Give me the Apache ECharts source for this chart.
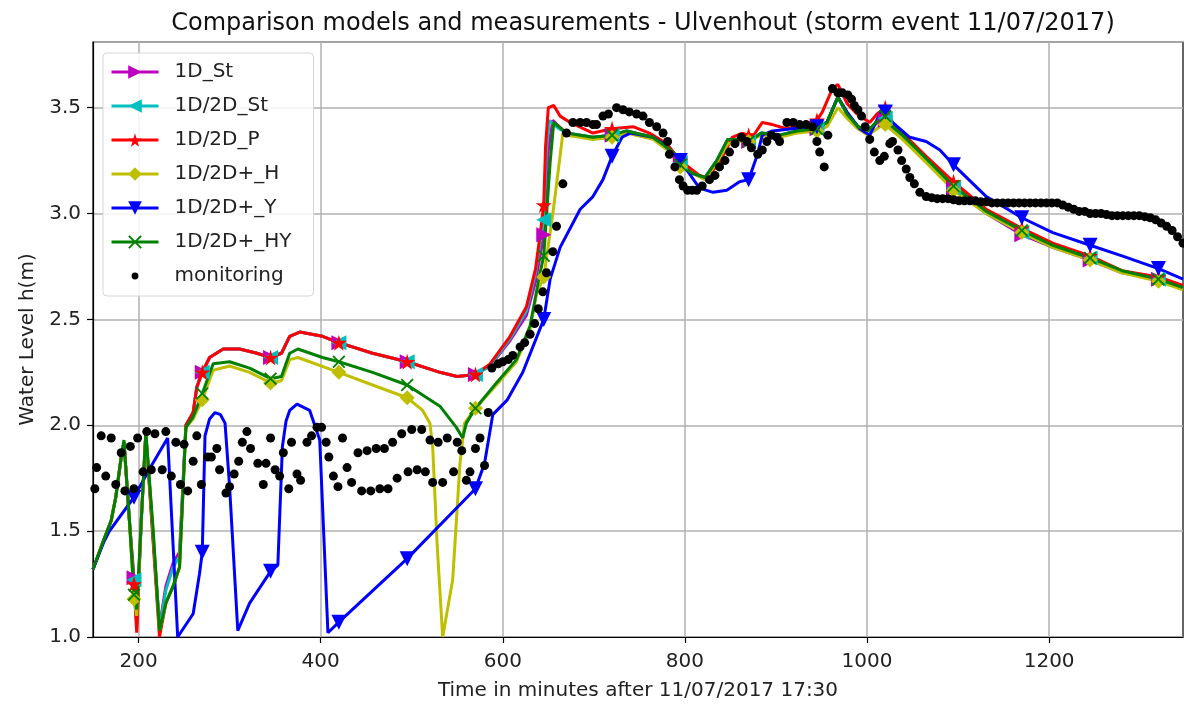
<!DOCTYPE html>
<html>
<head>
<meta charset="utf-8">
<title>Ulvenhout storm event</title>
<script src="https://cdn.jsdelivr.net/npm/echarts@6/dist/echarts.min.js"></script>
<style>
  html, body { margin: 0; padding: 0; background: #fff; }
  #chart { width: 1184px; height: 707px; }
</style>
</head>
<body>
<div id="chart"></div>
<script>
// water level h(m) against minutes after 11/07/2017 17:30
const xTicks = [200, 400, 600, 800, 1000, 1200]
const markerTimes = [195, 270, 345, 420, 495, 570, 645, 720, 795, 870, 945, 1020, 1095, 1170, 1245, 1320]

const st1D = [[150,1.32],[162,1.46],[170,1.55],[175,1.66],[181,1.85],[184,1.92],[190,1.55],[195,1.28],[198,1.06],[203,1.55],[208,1.96],[216,1.48],[223,1.05],[230,1.24],[238,1.35],[245,1.40],[252,2.00],[260,2.06],[264,2.18],[270,2.25],[278,2.32],[293,2.36],[311,2.36],[330,2.34],[345,2.32],[357,2.34],[366,2.42],[377,2.44],[402,2.42],[420,2.39],[457,2.34],[495,2.30],[531,2.25],[550,2.23],[570,2.24],[586,2.28],[608,2.40],[626,2.52],[636,2.68],[645,2.90],[650,3.30],[655,3.44],[662,3.41],[670,3.38],[685,3.37],[699,3.36],[720,3.37],[736,3.39],[765,3.36],[787,3.29],[795,3.24],[808,3.19],[822,3.17],[835,3.25],[847,3.35],[860,3.35],[870,3.34],[884,3.38],[904,3.37],[923,3.39],[945,3.40],[956,3.43],[968,3.55],[978,3.47],[990,3.41],[1001,3.39],[1014,3.44],[1020,3.44],[1028,3.40],[1039,3.36],[1065,3.25],[1095,3.12],[1131,3.00],[1170,2.90],[1204,2.84],[1245,2.78],[1280,2.72],[1320,2.69],[1347,2.65]]

const st1D2D = [[150,1.32],[162,1.46],[170,1.55],[175,1.66],[181,1.85],[184,1.92],[190,1.55],[195,1.27],[198,1.05],[203,1.55],[208,1.96],[216,1.47],[223,1.04],[230,1.22],[238,1.33],[245,1.38],[252,2.00],[260,2.06],[264,2.18],[270,2.25],[278,2.32],[293,2.36],[311,2.36],[330,2.34],[345,2.32],[357,2.34],[366,2.42],[377,2.44],[402,2.42],[420,2.39],[457,2.34],[495,2.30],[531,2.25],[550,2.23],[570,2.24],[586,2.28],[608,2.41],[626,2.54],[636,2.72],[645,2.97],[648,3.30],[651,3.44],[656,3.42],[662,3.40],[670,3.38],[685,3.37],[699,3.36],[720,3.37],[736,3.39],[765,3.36],[787,3.29],[795,3.24],[808,3.19],[822,3.17],[835,3.25],[847,3.35],[860,3.35],[870,3.34],[884,3.38],[904,3.37],[923,3.39],[945,3.40],[956,3.43],[968,3.55],[978,3.47],[990,3.41],[1001,3.39],[1014,3.45],[1020,3.45],[1028,3.41],[1039,3.36],[1065,3.25],[1095,3.12],[1131,3.00],[1170,2.91],[1204,2.84],[1245,2.79],[1280,2.72],[1320,2.69],[1347,2.65]]

const p1D2D = [[150,1.32],[162,1.46],[170,1.55],[175,1.66],[181,1.85],[184,1.92],[190,1.55],[195,1.25],[198,1.02],[203,1.55],[208,1.96],[216,1.45],[223,1.00],[230,1.16],[238,1.24],[245,1.33],[252,2.00],[260,2.06],[264,2.18],[270,2.25],[278,2.32],[293,2.36],[311,2.36],[330,2.34],[345,2.32],[357,2.34],[366,2.42],[377,2.44],[402,2.42],[420,2.39],[457,2.34],[495,2.30],[531,2.25],[550,2.23],[570,2.24],[586,2.29],[608,2.42],[626,2.56],[636,2.74],[641,2.90],[645,3.04],[647,3.32],[650,3.50],[656,3.51],[663,3.46],[674,3.43],[699,3.38],[720,3.40],[743,3.41],[761,3.38],[780,3.33],[795,3.25],[816,3.18],[824,3.17],[838,3.24],[852,3.36],[863,3.38],[870,3.37],[874,3.36],[885,3.43],[896,3.42],[912,3.40],[926,3.42],[945,3.44],[951,3.48],[962,3.59],[968,3.61],[978,3.52],[989,3.47],[1003,3.43],[1011,3.47],[1020,3.50],[1028,3.43],[1039,3.38],[1065,3.27],[1095,3.15],[1131,3.02],[1170,2.93],[1204,2.86],[1245,2.80],[1280,2.73],[1320,2.70],[1347,2.66]]

const h1D2Dplus = [[150,1.32],[162,1.46],[170,1.55],[175,1.66],[181,1.85],[184,1.92],[190,1.55],[195,1.18],[198,1.10],[203,1.55],[208,1.96],[216,1.50],[223,1.03],[230,1.16],[238,1.24],[245,1.33],[252,1.99],[260,2.03],[270,2.12],[282,2.26],[300,2.28],[322,2.25],[345,2.20],[357,2.21],[366,2.31],[375,2.32],[420,2.25],[457,2.19],[495,2.13],[512,2.07],[520,2.01],[523,1.90],[528,1.43],[534,1.00],[545,1.27],[553,1.82],[558,2.01],[570,2.08],[593,2.19],[615,2.30],[630,2.45],[637,2.62],[645,2.70],[655,3.00],[662,3.24],[666,3.38],[670,3.37],[685,3.36],[699,3.35],[720,3.36],[736,3.38],[765,3.35],[787,3.28],[795,3.22],[822,3.16],[835,3.24],[847,3.33],[860,3.34],[870,3.34],[884,3.37],[904,3.36],[923,3.38],[945,3.39],[956,3.41],[968,3.50],[978,3.45],[990,3.40],[1001,3.37],[1014,3.41],[1020,3.42],[1028,3.39],[1039,3.35],[1065,3.24],[1095,3.11],[1131,3.00],[1170,2.91],[1204,2.84],[1245,2.78],[1280,2.72],[1320,2.68],[1347,2.64]]

const y1D2Dplus = [[150,1.32],[162,1.45],[168,1.50],[195,1.66],[213,1.80],[232,1.94],[243,1.00],[260,1.11],[267,1.30],[270,1.40],[273,1.95],[278,2.03],[284,2.06],[290,2.05],[295,2.01],[300,1.71],[309,1.03],[322,1.16],[345,1.31],[353,1.34],[358,1.90],[362,2.02],[366,2.07],[374,2.10],[388,2.07],[399,1.93],[408,1.02],[420,1.07],[495,1.37],[570,1.70],[580,1.82],[589,2.05],[605,2.12],[622,2.25],[645,2.50],[652,2.69],[663,2.84],[685,3.02],[699,3.08],[710,3.16],[720,3.27],[731,3.36],[740,3.38],[765,3.36],[776,3.33],[795,3.25],[816,3.12],[831,3.10],[846,3.11],[860,3.15],[870,3.16],[879,3.27],[885,3.37],[896,3.39],[918,3.40],[945,3.41],[956,3.43],[968,3.55],[978,3.48],[992,3.40],[1003,3.37],[1014,3.47],[1020,3.48],[1028,3.43],[1047,3.36],[1065,3.34],[1080,3.30],[1095,3.23],[1131,3.08],[1170,2.98],[1204,2.91],[1245,2.85],[1280,2.80],[1320,2.74],[1347,2.69]]

const hy1D2Dplus = [[150,1.32],[162,1.46],[170,1.55],[175,1.66],[181,1.85],[184,1.93],[190,1.55],[195,1.20],[198,1.13],[203,1.55],[208,1.97],[216,1.51],[223,1.03],[230,1.16],[238,1.24],[245,1.33],[252,1.99],[260,2.04],[270,2.15],[282,2.29],[300,2.30],[322,2.27],[345,2.22],[357,2.23],[366,2.34],[375,2.36],[402,2.32],[420,2.30],[457,2.25],[495,2.19],[531,2.09],[549,1.99],[556,1.94],[560,2.01],[570,2.08],[593,2.20],[615,2.31],[630,2.47],[640,2.70],[645,2.80],[652,3.24],[656,3.43],[670,3.38],[685,3.37],[699,3.36],[720,3.37],[736,3.39],[765,3.36],[787,3.29],[795,3.23],[808,3.19],[822,3.17],[835,3.25],[847,3.35],[860,3.35],[870,3.34],[884,3.38],[904,3.37],[923,3.39],[945,3.40],[956,3.43],[968,3.55],[978,3.47],[990,3.41],[1001,3.39],[1014,3.45],[1020,3.46],[1028,3.41],[1039,3.37],[1065,3.26],[1095,3.13],[1131,3.01],[1170,2.92],[1204,2.85],[1245,2.79],[1280,2.73],[1320,2.69],[1347,2.65]]

const monitoring = [[152,1.70],[154,1.80],[159,1.95],[164,1.76],[170,1.94],[175,1.72],[181,1.87],[185,1.69],[191,1.90],[195,1.70],[199,1.94],[205,1.78],[209,1.97],[214,1.79],[218,1.96],[226,1.79],[230,1.97],[236,1.76],[241,1.92],[246,1.72],[250,1.91],[254,1.69],[260,1.83],[264,1.95],[269,1.72],[276,1.85],[280,1.85],[286,1.89],[289,1.79],[296,1.68],[300,1.71],[305,1.77],[310,1.83],[314,1.92],[319,1.97],[323,1.89],[331,1.82],[337,1.72],[340,1.82],[345,1.94],[350,1.79],[355,1.76],[359,1.87],[365,1.70],[368,1.92],[374,1.77],[378,1.74],[385,1.92],[390,1.95],[396,1.99],[401,1.99],[406,1.92],[409,1.85],[414,1.76],[419,1.71],[424,1.94],[429,1.80],[434,1.73],[441,1.87],[445,1.69],[451,1.88],[455,1.69],[461,1.89],[465,1.70],[470,1.89],[474,1.70],[479,1.92],[484,1.75],[489,1.96],[496,1.78],[500,1.98],[506,1.79],[511,1.98],[515,1.78],[520,1.93],[523,1.73],[529,1.92],[534,1.73],[539,1.94],[546,1.78],[550,1.92],[555,1.88],[560,1.74],[564,1.78],[570,1.89],[575,1.94],[580,1.81],[584,2.06],[588,2.27],[595,2.29],[600,2.30],[606,2.31],[611,2.33],[619,2.37],[624,2.39],[630,2.43],[635,2.48],[639,2.55],[644,2.63],[648,2.72],[655,2.82],[659,2.94],[666,3.14],[670,3.38],[677,3.43],[685,3.43],[692,3.43],[699,3.42],[703,3.42],[710,3.46],[716,3.47],[725,3.50],[732,3.49],[739,3.48],[747,3.47],[754,3.46],[761,3.43],[769,3.41],[776,3.38],[781,3.34],[783,3.28],[789,3.22],[794,3.16],[798,3.13],[803,3.11],[808,3.11],[813,3.11],[819,3.13],[827,3.16],[833,3.18],[838,3.22],[844,3.25],[849,3.29],[855,3.33],[862,3.36],[868,3.34],[873,3.31],[880,3.28],[885,3.30],[890,3.34],[895,3.37],[901,3.36],[904,3.34],[912,3.43],[919,3.43],[926,3.42],[933,3.42],[940,3.41],[945,3.34],[948,3.29],[953,3.22],[957,3.37],[962,3.59],[968,3.57],[973,3.57],[979,3.56],[983,3.54],[986,3.51],[990,3.49],[994,3.46],[998,3.41],[1003,3.35],[1008,3.29],[1014,3.25],[1019,3.27],[1025,3.33],[1028,3.34],[1034,3.30],[1038,3.25],[1043,3.21],[1047,3.17],[1052,3.14],[1058,3.10],[1065,3.08],[1071,3.075],[1077,3.07],[1083,3.07],[1089,3.07],[1095,3.065],[1101,3.06],[1107,3.06],[1113,3.06],[1119,3.06],[1125,3.055],[1131,3.055],[1137,3.05],[1143,3.05],[1149,3.05],[1155,3.05],[1161,3.05],[1167,3.05],[1173,3.05],[1179,3.05],[1185,3.05],[1191,3.05],[1197,3.05],[1203,3.05],[1209,3.05],[1215,3.04],[1221,3.03],[1227,3.02],[1233,3.01],[1239,3.01],[1245,3.00],[1251,3.00],[1257,3.00],[1263,2.995],[1269,2.99],[1275,2.99],[1281,2.99],[1287,2.99],[1293,2.99],[1299,2.99],[1305,2.985],[1311,2.98],[1317,2.97],[1323,2.955],[1329,2.94],[1335,2.92],[1341,2.89],[1347,2.86]]

const FONT = 'DejaVu Sans'
const STAR = 'path://M50,0 L61,35 L98,35 L68,57 L79,91 L50,70 L21,91 L32,57 L2,35 L39,35 Z'
const CROSS = 'path://M0,10 L10,0 L50,40 L90,0 L100,10 L60,50 L100,90 L90,100 L50,60 L10,100 L0,90 L40,50 Z'
const DOT = 'path://M0,0 M20,20 M6,10 a4,4 0 1,0 8,0 a4,4 0 1,0 -8,0 Z'

function modelSeries(name, pts, color, symbol, rotate, size) {
  return {
    name: name,
    type: 'line',
    symbol: symbol,
    symbolRotate: rotate,
    symbolSize: size,
    color: color,
    lineStyle: { color: color, width: 3 },
    itemStyle: { color: color, opacity: 1 },
    data: pts.map(p => markerTimes.indexOf(p[0]) >= 0 ? { value: p } : { value: p, symbol: 'none' }),
    animation: false
  }
}

const chart = echarts.init(document.getElementById('chart'))
window.addEventListener('resize', () => {
  chart.resize()
})

chart.setOption({
  backgroundColor: '#fff',
  textStyle: { fontFamily: FONT },
  title: {
    text: 'Comparison models and measurements - Ulvenhout (storm event 11/07/2017)',
    left: 638,
    textAlign: 'center',
    top: 7,
    textStyle: { fontFamily: FONT, fontSize: 24, fontWeight: 'normal', color: '#111' }
  },
  grid: {
    left: 93, right: 1, top: 42, bottom: 70,
    show: true, borderColor: '#000', borderWidth: 1.2
  },
  legend: {
    orient: 'vertical',
    left: 103,
    top: 53,
    itemWidth: 47,
    itemHeight: 17,
    itemGap: 14,
    padding: [9, 22, 10, 7],
    backgroundColor: 'rgba(255,255,255,0.85)',
    borderColor: '#d6d6d6',
    borderWidth: 1,
    borderRadius: 4,
    symbolRotate: 'inherit',
    lineStyle: { width: 3 },
    textStyle: { fontFamily: FONT, fontSize: 20, color: '#222', padding: [0, 0, 0, 11] },
    data: ['1D_St', '1D/2D_St', '1D/2D_P', '1D/2D+_H', '1D/2D+_Y', '1D/2D+_HY', { name: 'monitoring', icon: DOT }]
  },
  xAxis: {
    type: 'value',
    min: 150,
    max: 1347,
    name: 'Time in minutes after 11/07/2017 17:30',
    nameLocation: 'middle',
    nameGap: 44,
    nameTextStyle: { fontFamily: FONT, fontSize: 20, color: '#222' },
    axisLine: { show: true, onZero: false, lineStyle: { color: '#000', width: 1.2 } },
    axisTick: { show: true, inside: false, length: 6, customValues: xTicks, lineStyle: { color: '#000', width: 1.2 } },
    axisLabel: {
      customValues: xTicks, margin: 15, fontFamily: FONT, fontSize: 20, color: '#222',
      formatter: v => String(v)
    },
    splitLine: { show: true, lineStyle: { color: '#b0b0b0', width: 1.5 } }
  },
  yAxis: {
    type: 'value',
    min: 1.0,
    max: 3.81,
    interval: 0.5,
    name: 'Water Level h(m)',
    nameLocation: 'middle',
    nameGap: 54,
    nameTextStyle: { fontFamily: FONT, fontSize: 20, color: '#222' },
    axisLine: { show: true, lineStyle: { color: '#000', width: 1.2 } },
    axisTick: { show: true, inside: false, length: 6, lineStyle: { color: '#000', width: 1.2 } },
    axisLabel: {
      showMaxLabel: false,
      margin: 12,
      fontFamily: FONT, fontSize: 20, color: '#222',
      formatter: v => v.toFixed(1)
    },
    splitLine: { show: true, lineStyle: { color: '#b0b0b0', width: 1.5 } }
  },
  series: [
    modelSeries('1D_St', st1D, '#bf00bf', 'triangle', -90, 15),
    modelSeries('1D/2D_St', st1D2D, '#00bfbf', 'triangle', 90, 15),
    modelSeries('1D/2D_P', p1D2D, '#ff0000', STAR, 0, 16),
    modelSeries('1D/2D+_H', h1D2Dplus, '#bfbf00', 'diamond', 0, 15),
    modelSeries('1D/2D+_Y', y1D2Dplus, '#0000ff', 'triangle', 180, 15),
    modelSeries('1D/2D+_HY', hy1D2Dplus, '#008000', CROSS, 0, 13),
    {
      name: 'monitoring',
      type: 'scatter',
      symbol: 'circle',
      symbolSize: 9,
      itemStyle: { color: '#000', opacity: 1 },
      data: monitoring,
      animation: false,
      z: 5
    }
  ]
})
</script>
</body>
</html>
